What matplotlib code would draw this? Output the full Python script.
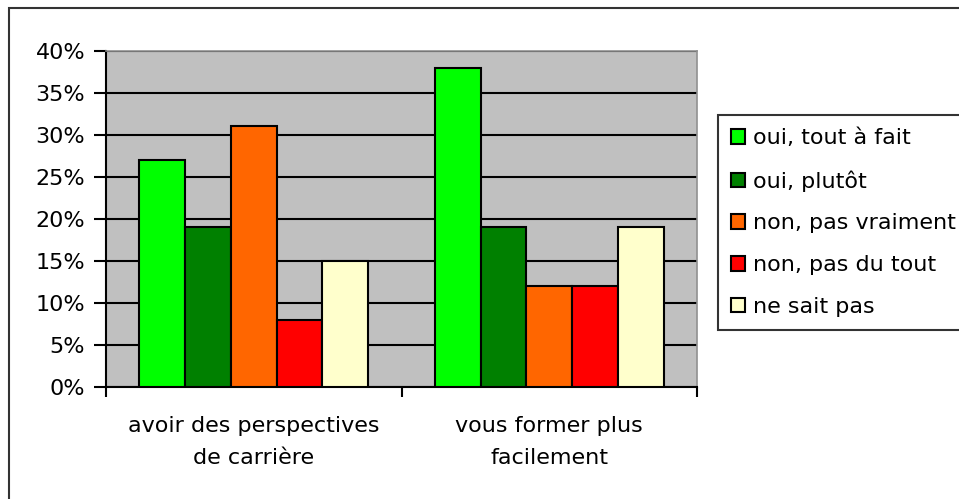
import numpy as np
import matplotlib.pyplot as plt
from matplotlib.patches import Rectangle

# Survey answers, share of respondents per question
categories = ["avoir des perspectives\nde carrière", "vous former plus\nfacilement"]
answers = ["oui, tout à fait", "oui, plutôt", "non, pas vraiment",
           "non, pas du tout", "ne sait pas"]
oui_tout_a_fait = [0.27, 0.38]
oui_plutot = [0.19, 0.19]
non_pas_vraiment = [0.31, 0.12]
non_pas_du_tout = [0.08, 0.12]
ne_sait_pas = [0.15, 0.19]
colors = ["#00FF00", "#008000", "#FF6600", "#FF0000", "#FFFFCC"]
ytick_values = [0, 0.05, 0.10, 0.15, 0.20, 0.25, 0.30, 0.35, 0.40]

series = [oui_tout_a_fait, oui_plutot, non_pas_vraiment, non_pas_du_tout, ne_sait_pas]

plt.rcParams['font.family'] = 'DejaVu Sans'
plt.rcParams['font.size'] = 16

W, H = 959, 499
fig = plt.figure(figsize=(W / 100, H / 100), dpi=100)

# outer chart border (runs off the right and bottom edges)
fig.patches.append(Rectangle((9 / W, -0.1), 1.2, 1 - 8 / H + 0.1,
                             transform=fig.transFigure, fill=False,
                             edgecolor="#333333", linewidth=1.5))

ax = fig.add_axes([106 / W, 1 - 387 / H, (697 - 106) / W, (387 - 50.7) / H])
ax.set_facecolor("#C0C0C0")

x = np.arange(len(categories))
w = 0.155
bars = []
for i, (vals, col, lab) in enumerate(zip(series, colors, answers)):
    b = ax.bar(x + (i - 2) * w, vals, width=w, color=col, edgecolor="black",
               linewidth=1.5, label=lab, zorder=3)
    bars.append(b)

ax.set_xlim(-0.5, len(categories) - 0.5)
ax.set_ylim(0, 0.40)
ax.set_yticks(ytick_values)
ax.set_yticklabels([f"{int(round(v * 100))}%" for v in ytick_values])
ax.yaxis.grid(True, color="black", linewidth=1.5, zorder=1)
ax.set_axisbelow(True)

ax.set_xticks(x)
ax.set_xticklabels(categories, linespacing=1.75)
ax.set_xticks(np.arange(len(categories) + 1) - 0.5, minor=True)
ax.tick_params(axis="x", which="major", length=0, pad=21)
ax.tick_params(axis="x", which="minor", length=7, width=1.5, direction="out")
ax.tick_params(axis="y", length=9, width=1.5, direction="out", pad=6)

for side in ["top", "right"]:
    ax.spines[side].set_color("#909090")
    ax.spines[side].set_linewidth(1.2)
for side in ["left", "bottom"]:
    ax.spines[side].set_color("black")
    ax.spines[side].set_linewidth(1.5)

leg = fig.legend(handles=bars, labels=answers, loc="upper left",
                 bbox_to_anchor=(718 / W, 1 - 115 / H),
                 frameon=True, fancybox=False, shadow=False,
                 handlelength=0.62, handleheight=0.62, handletextpad=0.36,
                 labelspacing=0.98, borderpad=0.6, borderaxespad=0,
                 fontsize=16)
leg.get_frame().set_edgecolor("black")
leg.get_frame().set_linewidth(1.5)

fig.savefig("out.png", dpi=100, facecolor="white")
